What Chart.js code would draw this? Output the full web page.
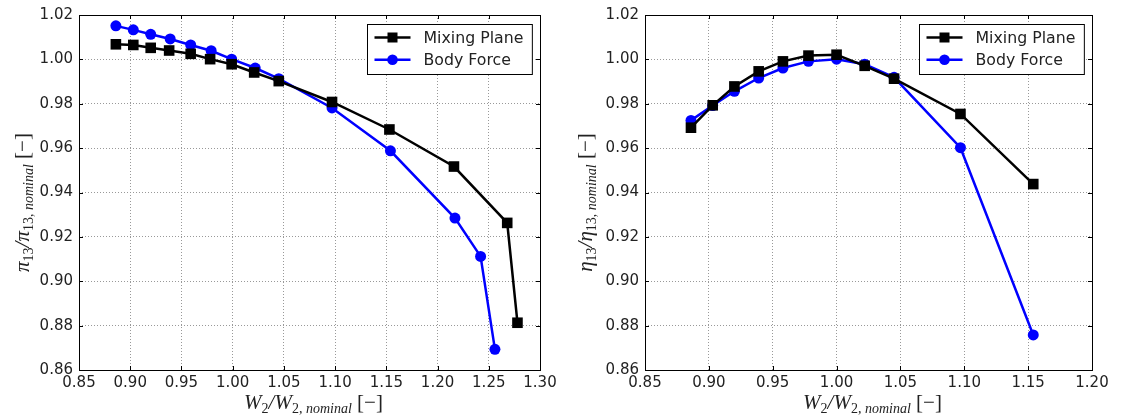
<!DOCTYPE html>
<html>
<head>
<meta charset="utf-8">
<script src="https://cdn.jsdelivr.net/npm/chart.js@4.4.0/dist/chart.umd.min.js"></script>
<style>
  body { margin: 0; background: #fff; }
  .wrap { display: flex; width: 1130px; height: 416px; }
  canvas { display: block; }
</style>
</head>
<body>
<div class="wrap">
  <canvas id="piChart" width="565" height="416"></canvas>
  <canvas id="etaChart" width="565" height="416"></canvas>
</div>
<script>
// pressure ratio (left)
var piMixX = [0.886, 0.903, 0.920, 0.938, 0.959, 0.978, 0.999, 1.021, 1.045, 1.097, 1.153, 1.216, 1.268, 1.278];
var piMixY = [1.0068, 1.0065, 1.0052, 1.0040, 1.0025, 1.0001, 0.9978, 0.9941, 0.9902, 0.9808, 0.9684, 0.9517, 0.9263, 0.8813];
var piBodyX = [0.886, 0.903, 0.920, 0.939, 0.959, 0.979, 0.999, 1.022, 1.045, 1.097, 1.154, 1.217, 1.242, 1.256];
var piBodyY = [1.0151, 1.0133, 1.0113, 1.0092, 1.0065, 1.0039, 1.0001, 0.9961, 0.9913, 0.9781, 0.9588, 0.9285, 0.9112, 0.8693];

// efficiency (right)
var etaX = [0.886, 0.903, 0.920, 0.939, 0.958, 0.978, 1.000, 1.022, 1.045, 1.097, 1.154];
var etaMixY = [0.9692, 0.9793, 0.9878, 0.9946, 0.9991, 1.0017, 1.0021, 0.9971, 0.9913, 0.9754, 0.9438];
var etaBodyY = [0.9725, 0.9792, 0.9856, 0.9916, 0.9961, 0.9991, 1.0001, 0.9978, 0.9919, 0.9602, 0.8758];

var xTicksPi = [0.85, 0.90, 0.95, 1.00, 1.05, 1.10, 1.15, 1.20, 1.25, 1.30];
var xTicksEta = [0.85, 0.90, 0.95, 1.00, 1.05, 1.10, 1.15, 1.20];
var yTicks = [0.86, 0.88, 0.90, 0.92, 0.94, 0.96, 0.98, 1.00, 1.02];

var seriesNames = ['Mixing Plane', 'Body Force'];

function pts(xs, ys) {
  return xs.map(function (x, i) { return { x: x, y: ys[i] }; });
}

// draws a label made of pieces: [text, size, italic, baseline shift]
function mathText(ctx, parts, cx, cy, rotate) {
  ctx.save();
  ctx.translate(cx, cy);
  if (rotate) ctx.rotate(-Math.PI / 2);
  var total = 0;
  parts.forEach(function (p) {
    ctx.font = (p[2] ? 'italic ' : '') + p[1] + 'px "Liberation Serif"';
    total += ctx.measureText(p[0]).width;
  });
  var x = -total / 2;
  ctx.fillStyle = '#222';
  ctx.textBaseline = 'alphabetic';
  parts.forEach(function (p) {
    ctx.font = (p[2] ? 'italic ' : '') + p[1] + 'px "Liberation Serif"';
    ctx.fillText(p[0], x, 7 + p[3]);
    x += ctx.measureText(p[0]).width;
  });
  ctx.restore();
}

var framePlugin = {
  id: 'frame',
  afterDraw: function (chart, args, opts) {
    var ctx = chart.ctx, a = chart.chartArea;
    var xs = chart.scales.x, ys = chart.scales.y;
    ctx.save();
    ctx.strokeStyle = '#000';
    ctx.lineWidth = 1;
    // tick marks on all four sides, pointing in
    ctx.beginPath();
    xs.ticks.forEach(function (t) {
      var px = Math.round(xs.getPixelForValue(t.value)) + 0.5;
      ctx.moveTo(px, a.bottom); ctx.lineTo(px, a.bottom - 4);
      ctx.moveTo(px, a.top); ctx.lineTo(px, a.top + 4);
    });
    ys.ticks.forEach(function (t) {
      var py = Math.round(ys.getPixelForValue(t.value)) + 0.5;
      ctx.moveTo(a.left, py); ctx.lineTo(a.left + 4, py);
      ctx.moveTo(a.right, py); ctx.lineTo(a.right - 4, py);
    });
    ctx.stroke();
    ctx.strokeRect(Math.round(a.left) + 0.5, Math.round(a.top) + 0.5,
      Math.round(a.right - a.left), Math.round(a.bottom - a.top));

    // legend box
    ctx.font = '15.75px "DejaVu Sans"';
    var w = 0;
    chart.data.datasets.forEach(function (d) { w = Math.max(w, ctx.measureText(d.label).width); });
    var bw = 56 + w + 9, bh = 50;
    var bx = Math.round(a.right - 8 - bw) + 0.5, by = Math.round(a.top + 8.5) + 0.5;
    ctx.fillStyle = '#fff';
    ctx.fillRect(bx, by, bw, bh);
    ctx.strokeRect(bx, by, bw, bh);
    chart.data.datasets.forEach(function (d, i) {
      var ry = by + 13 + i * 22.3;
      ctx.strokeStyle = d.borderColor;
      ctx.lineWidth = 2.5;
      ctx.beginPath(); ctx.moveTo(bx + 7, ry); ctx.lineTo(bx + 43, ry); ctx.stroke();
      ctx.fillStyle = d.pointBackgroundColor;
      if (d.pointStyle === 'rect') {
        ctx.fillRect(bx + 25 - 5, ry - 5, 10, 10);
      } else {
        ctx.beginPath(); ctx.arc(bx + 25, ry, 5.3, 0, Math.PI * 2); ctx.fill();
      }
      ctx.fillStyle = '#222';
      ctx.textBaseline = 'middle';
      ctx.fillText(d.label, bx + 56, ry + 1);
    });
    ctx.restore();

    // axis titles
    mathText(ctx, opts.xTitle, (a.left + a.right) / 2 + 4, 402, false);
    mathText(ctx, opts.yTitle, opts.yTitleX, (a.top + a.bottom) / 2 + 10, true);
  }
};

function makeChart(id, xTicks, mix, body, padRight, yWidth, yTitle, yTitleX) {
  return new Chart(document.getElementById(id), {
    type: 'line',
    data: {
      datasets: [{
        label: seriesNames[0],
        data: mix,
        borderColor: '#000',
        pointBackgroundColor: '#000',
        pointBorderColor: '#000',
        pointStyle: 'rect',
        pointRadius: 7.5,
        borderWidth: 2.5,
        pointBorderWidth: 0,
        tension: 0
      }, {
        label: seriesNames[1],
        data: body,
        borderColor: '#0000ff',
        pointBackgroundColor: '#0000ff',
        pointBorderColor: '#0000ff',
        pointStyle: 'circle',
        pointRadius: 5.5,
        borderWidth: 2.5,
        pointBorderWidth: 0,
        tension: 0
      }]
    },
    options: {
      responsive: false,
      animation: false,
      layout: { padding: { left: 0, right: padRight, top: 13, bottom: 0 } },
      plugins: {
        legend: { display: false },
        tooltip: { enabled: false },
        frame: {
          xTitle: [['W', 21, true, 0], ['2', 14, false, 4], ['/W', 21, true, 0], ['2,', 14, false, 4],
                   [' nominal', 14, true, 4], [' [\u2212]', 21, false, 0]],
          yTitle: yTitle,
          yTitleX: yTitleX
        }
      },
      scales: {
        x: {
          type: 'linear',
          min: xTicks[0],
          max: xTicks[xTicks.length - 1],
          afterBuildTicks: function (s) { s.ticks = xTicks.map(function (v) { return { value: v }; }); },
          afterFit: function (s) { s.height = 46; },
          grid: { color: '#999', drawTicks: false },
          border: { display: false, dash: [1, 2] },
          ticks: {
            padding: 4,
            color: '#222',
            font: { family: 'DejaVu Sans', size: 15 },
            callback: function (v) { return v.toFixed(2); }
          }
        },
        y: {
          type: 'linear',
          min: yTicks[0],
          max: yTicks[yTicks.length - 1],
          afterBuildTicks: function (s) { s.ticks = yTicks.map(function (v) { return { value: v }; }); },
          afterFit: function (s) { s.width = yWidth; },
          grid: { color: '#999', drawTicks: false },
          border: { display: false, dash: [1, 2] },
          ticks: {
            padding: 6,
            color: '#222',
            font: { family: 'DejaVu Sans', size: 15 },
            callback: function (v) { return v.toFixed(2); }
          }
        }
      }
    },
    plugins: [framePlugin]
  });
}

makeChart('piChart', xTicksPi, pts(piMixX, piMixY), pts(piBodyX, piBodyY), 25, 79,
  [['\u03c0', 21, true, 0], ['13', 14, false, 4], ['/\u03c0', 21, true, 0], ['13,', 14, false, 4],
   [' nominal', 14, true, 4], [' [\u2212]', 21, false, 0]], 22);
makeChart('etaChart', xTicksEta, pts(etaX, etaMixY), pts(etaX, etaBodyY), 38, 80,
  [['\u03b7', 21, true, 0], ['13', 14, false, 4], ['/\u03b7', 21, true, 0], ['13,', 14, false, 4],
   [' nominal', 14, true, 4], [' [\u2212]', 21, false, 0]], 20);
</script>
</body>
</html>
